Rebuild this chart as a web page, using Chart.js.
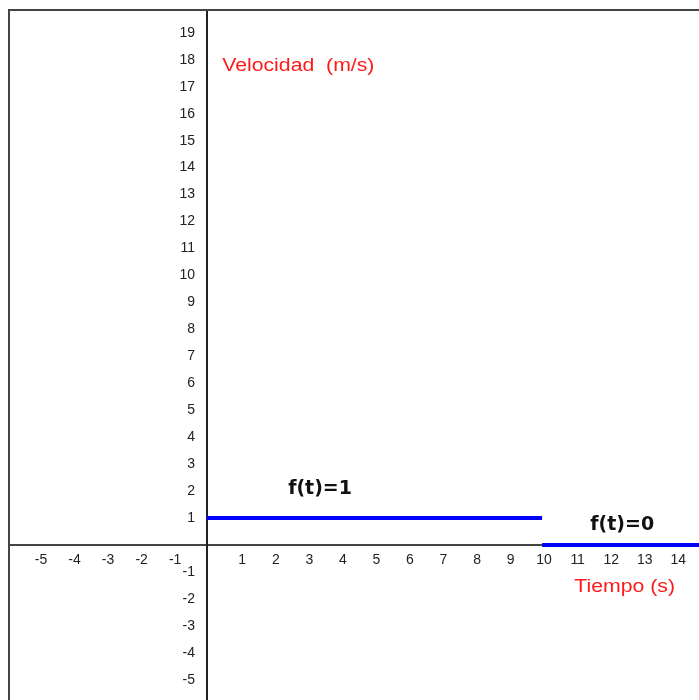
<!DOCTYPE html>
<html>
<head>
<meta charset="utf-8">
<script src="https://cdn.jsdelivr.net/npm/chart.js@4"></script>
<style>
  html, body { margin: 0; padding: 0; background: #fff; overflow: hidden; }
  #frame { position: absolute; left: 8px; top: 9px; width: 691px; height: 691px;
           border-left: 2px solid #444; border-top: 2px solid #444; }
  #box { position: absolute; left: 0; top: 0; width: 689px; height: 689px; }
</style>
</head>
<body>
<div id="frame"><div id="box"><canvas id="chart"></canvas></div></div>
<script>
// tramo 1: f(t)=1 entre 0 y 10 s
var seg1T = [0, 10];
var seg1V = [1, 1];
// tramo 2: f(t)=0 desde 10 s
var seg2T = [10, 15];
var seg2V = [0, 0];
// marcas de los ejes
var xTicks = [-5, -4, -3, -2, -1, 1, 2, 3, 4, 5, 6, 7, 8, 9, 10, 11, 12, 13, 14];
var yTicks = [-5, -4, -3, -2, -1, 1, 2, 3, 4, 5, 6, 7, 8, 9, 10, 11, 12, 13, 14, 15, 16, 17, 18, 19];

function toPoints(xs, ys) {
  return xs.map(function (x, i) { return { x: x, y: ys[i] }; });
}

// los ejes van dentro del área: que no reserven margen
function noPadding(scale) {
  scale.paddingTop = 0; scale.paddingBottom = 0;
  scale.paddingLeft = 0; scale.paddingRight = 0;
}

var labelsPlugin = {
  id: "labels",
  afterDraw: function (chart) {
    var ctx = chart.ctx, sx = chart.scales.x, sy = chart.scales.y;
    var items = [
      { text: "Velocidad  (m/s)", x: 0.46, y: 17.59, font: "18px 'Liberation Sans', Arial", color: "#ff1a1a", align: "left", stretch: 1.18 },
      { text: "Tiempo (s)", x: 10.96, y: -1.74, font: "18px 'Liberation Sans', Arial", color: "#ff1a1a", align: "left", stretch: 1.18 },
      { text: "f(t)=1", x: 3.38, y: 1.88, font: "bold 19px 'DejaVu Sans'", color: "#111", align: "center", stretch: 1 },
      { text: "f(t)=0", x: 12.39, y: 0.57, font: "bold 19px 'DejaVu Sans'", color: "#111", align: "center", stretch: 1 }
    ];
    items.forEach(function (it) {
      ctx.save();
      ctx.font = it.font;
      ctx.fillStyle = it.color;
      ctx.textAlign = it.align;
      ctx.textBaseline = "alphabetic";
      ctx.translate(sx.getPixelForValue(it.x), sy.getPixelForValue(it.y));
      ctx.scale(it.stretch, 1);
      ctx.fillText(it.text, 0, 0);
      ctx.restore();
    });
  }
};

new Chart(document.getElementById("chart"), {
  type: "scatter",
  data: {
    datasets: [
      { data: toPoints(seg1T, seg1V), showLine: true, borderColor: "#0000ff", borderWidth: 4, pointRadius: 0, borderCapStyle: "butt" },
      { data: toPoints(seg2T, seg2V), showLine: true, borderColor: "#0000ff", borderWidth: 4, pointRadius: 0, borderCapStyle: "butt" }
    ]
  },
  options: {
    responsive: true,
    maintainAspectRatio: false,
    devicePixelRatio: 1,
    animation: false,
    layout: { padding: 0 },
    plugins: { legend: { display: false }, tooltip: { enabled: false } },
    scales: {
      x: {
        type: "linear",
        position: { y: 0 },
        min: -5.865, max: 14.678,
        afterBuildTicks: function (scale) { scale.ticks = xTicks.map(function (v) { return { value: v }; }); },
        afterFit: noPadding,
        grid: { display: false, drawTicks: false },
        border: { display: true, color: "#444", width: 2 },
        ticks: { color: "#222", font: { family: "'Liberation Sans', Arial", size: 14 }, padding: 7, labelOffset: 2, maxRotation: 0, autoSkip: false }
      },
      y: {
        type: "linear",
        position: { x: 0 },
        min: -5.75, max: 19.81,
        afterBuildTicks: function (scale) { scale.ticks = yTicks.map(function (v) { return { value: v }; }); },
        afterFit: noPadding,
        grid: { display: false, drawTicks: false },
        border: { display: true, color: "#222", width: 2 },
        ticks: {
          color: "#222", font: { family: "'Liberation Sans', Arial", size: 14 }, autoSkip: false,
          callback: function (v) { return v + "   "; }
        }
      }
    }
  },
  plugins: [labelsPlugin]
});
</script>
</body>
</html>
